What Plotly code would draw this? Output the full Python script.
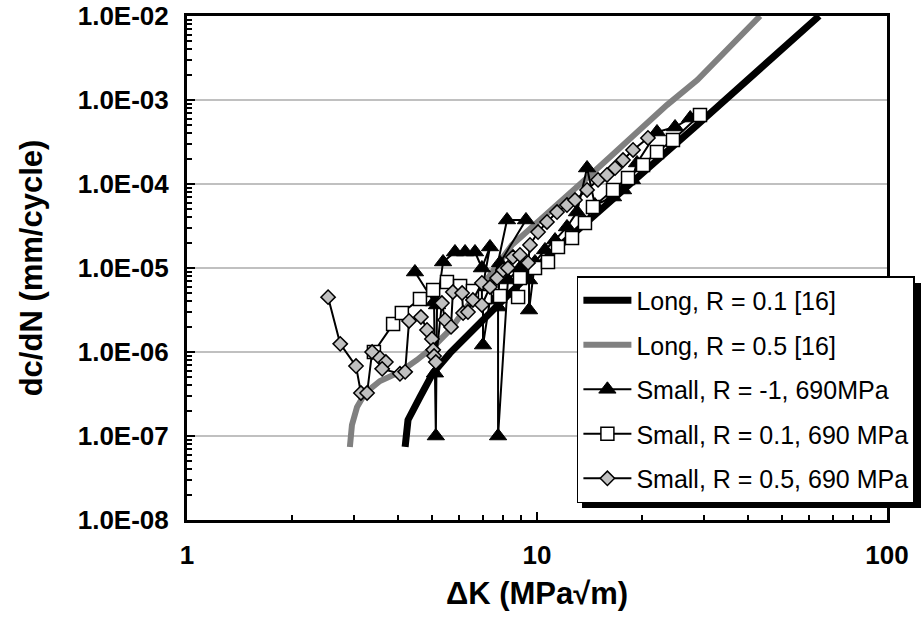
import plotly.graph_objects as go

# ---------------- data ----------------
# Long crack, R = 0.1 [16]
long_r01_dk = [4.20, 4.28, 4.63, 5.04, 5.64, 6.31, 7.01, 7.84, 8.77, 9.74, 10.68, 28.6, 64.0]
long_r01_dcdn = [7.4e-8, 1.55e-7, 2.91e-7, 5.6e-7, 9.7e-7, 1.51e-6, 2.4e-6, 3.83e-6, 5.94e-6,
                 9.5e-6, 1.35e-5, 5.0e-4, 1.0e-2]

# Long crack, R = 0.5 [16]
long_r05_dk = [2.92, 2.96, 3.06, 3.23, 3.56, 4.06, 4.54, 5.05, 5.64, 6.44, 7.34, 8.48, 14.2,
               23.5, 28.7, 43.4]
long_r05_dcdn = [7.4e-8, 1.35e-7, 2.21e-7, 3.25e-7, 4.52e-7, 5.78e-7, 8.04e-7, 1.15e-6, 1.83e-6,
                 3.94e-6, 8.49e-6, 1.88e-5, 1.28e-4, 8.7e-4, 1.73e-3, 1.0e-2]

# Small crack, R = -1, 690 MPa
small_rm1_dk = [4.48, 5.08, 5.11, 5.14, 5.18, 5.39, 5.83, 6.23, 6.65, 6.96, 7.34, 7.01, 7.01,
                7.34, 8.21, 9.30, 7.84, 7.74, 7.74, 8.26, 8.94, 9.49, 9.49, 9.87, 10.54, 11.26,
                12.18, 13.01, 13.90, 14.64, 16.49, 17.61, 18.68, 19.31, 22.02, 24.80, 27.4]
small_rm1_dcdn = [8.96e-6, 3.94e-6, 5.6e-7, 1.0e-7, 3.63e-6, 1.18e-5, 1.55e-5, 1.55e-5, 1.55e-5,
                  1.0e-5, 1.78e-5, 6.28e-6, 1.21e-6, 4.16e-6, 3.73e-5, 3.73e-5, 1.15e-5, 3.43e-6,
                  1.0e-7, 7.2e-6, 1.0e-5, 7.2e-6, 3.16e-6, 1.18e-5, 1.64e-5, 2.15e-5, 3.08e-5,
                  4.64e-5, 1.55e-4, 5.62e-5, 7.0e-5, 8.49e-5, 1.12e-4, 1.78e-4, 4.16e-4, 4.77e-4,
                  6.1e-4]

# Small crack, R = 0.1, 690 MPa
small_r01_dk = [3.42, 3.88, 4.11, 4.63, 5.05, 5.53, 6.03, 6.56, 7.10, 7.84, 8.83, 8.94, 9.87,
                10.75, 11.48, 12.59, 13.71, 14.45, 16.49, 18.20, 20.09, 22.02, 24.46, 29.22]
small_r01_dcdn = [1.0e-6, 2.15e-6, 2.91e-6, 4.27e-6, 5.47e-6, 6.81e-6, 6.1e-6, 5.32e-6, 4.52e-6,
                  4.64e-6, 4.52e-6, 7.6e-6, 1.0e-5, 1.18e-5, 1.78e-5, 2.28e-5, 3.43e-5, 5.32e-5,
                  8.49e-5, 1.18e-4, 1.68e-4, 2.40e-4, 3.34e-4, 6.63e-4]

# Small crack, R = 0.5, 690 MPa
small_r05_dk = [2.53, 2.74, 3.04, 3.14, 3.27, 3.38, 3.56, 3.70, 3.61, 4.06, 4.20, 4.31, 4.66,
                4.85, 5.01, 5.05, 5.08, 5.14, 5.35, 5.46, 5.68, 5.75, 6.11, 6.15, 6.35, 6.56,
                6.96, 6.96, 7.34, 7.69, 8.00, 8.26, 8.54, 8.94, 9.43, 9.55, 10.07, 10.68, 11.41,
                12.18, 12.84, 13.90, 14.94, 15.85, 16.71, 17.61, 18.81, 20.75]
small_r05_dcdn = [4.5e-6, 1.25e-6, 6.8e-7, 3.25e-7, 3.25e-7, 1.0e-6, 8.5e-7, 7.6e-7, 6.3e-7,
                  5.5e-7, 5.8e-7, 2.34e-6, 2.61e-6, 1.83e-6, 1.43e-6, 1.06e-6, 8.96e-7, 7.6e-7,
                  3.83e-6, 2.41e-6, 1.99e-6, 5.18e-6, 5.04e-6, 2.91e-6, 2.99e-6, 4.16e-6, 6.63e-6,
                  3.63e-6, 5.94e-6, 7.6e-6, 9.46e-6, 1.0e-5, 1.35e-5, 1.43e-5, 1.15e-5, 1.88e-5,
                  2.68e-5, 3.53e-5, 4.64e-5, 5.62e-5, 6.45e-5, 8.49e-5, 1.12e-4, 1.28e-4, 1.55e-4,
                  1.93e-4, 2.54e-4, 3.53e-4]

x_tick_vals = [1, 10, 100]
x_tick_text = ["1", "10", "100"]
y_tick_vals = [1e-8, 1e-7, 1e-6, 1e-5, 1e-4, 1e-3, 1e-2]
y_tick_text = ["1.0E-08", "1.0E-07", "1.0E-06", "1.0E-05", "1.0E-04", "1.0E-03", "1.0E-02"]

x_minor = [m * 10 ** e for e in range(0, 2) for m in range(2, 10)]
y_minor = [m * 10.0 ** e for e in range(-8, -2) for m in range(2, 10)]

FONT = "Liberation Sans, Arial, sans-serif"

fig = go.Figure()
fig.add_trace(go.Scatter(x=long_r01_dk, y=long_r01_dcdn, mode="lines", name="Long, R = 0.1 [16]",
                         legendgroup="g1",
                         line=dict(color="black", width=7)))
fig.add_trace(go.Scatter(x=long_r05_dk, y=long_r05_dcdn, mode="lines", name="Long, R = 0.5 [16]",
                         legendgroup="g2",
                         line=dict(color="#808080", width=6)))
fig.add_trace(go.Scatter(x=small_rm1_dk, y=small_rm1_dcdn, mode="lines+markers",
                         name="Small, R = -1, 690MPa", legendgroup="g3",
                         line=dict(color="black", width=2),
                         marker=dict(symbol="triangle-up", size=15, color="black",
                                     line=dict(color="black", width=1))))
fig.add_trace(go.Scatter(x=small_r01_dk, y=small_r01_dcdn, mode="lines+markers",
                         name="Small, R = 0.1, 690 MPa", legendgroup="g4",
                         line=dict(color="black", width=2),
                         marker=dict(symbol="square", size=13, color="white",
                                     line=dict(color="black", width=1.5))))
fig.add_trace(go.Scatter(x=small_r05_dk, y=small_r05_dcdn, mode="lines+markers",
                         name="Small, R = 0.5, 690 MPa", legendgroup="g5",
                         line=dict(color="black", width=2),
                         marker=dict(symbol="diamond", size=11, color="#c0c0c0",
                                     line=dict(color="black", width=1.5))))

# legend shadow
fig.add_shape(type="rect", xref="paper", yref="paper",
              x0=0.5643, x1=1.05, y0=0.0238, y1=0.47,
              fillcolor="black", line=dict(width=0), layer="above")

fig.update_layout(
    width=921, height=626,
    margin=dict(l=187, r=34, t=16, b=106, autoexpand=False),
    paper_bgcolor="white", plot_bgcolor="white",
    font=dict(family=FONT, color="black"),
    showlegend=True,
    legend=dict(x=0.557, y=0.484, xanchor="left", yanchor="top",
                bgcolor="white", bordercolor="black", borderwidth=1.5,
                font=dict(family=FONT, size=25, color="black"),
                itemwidth=48, traceorder="grouped", tracegroupgap=9),
)

fig.update_xaxes(
    type="log", range=[0, 2], automargin=False,
    tickmode="array", tickvals=x_tick_vals, ticktext=x_tick_text,
    ticks="inside", ticklen=8, tickwidth=1.5, tickcolor="black",
    ticklabelstandoff=10,
    tickfont=dict(family=FONT, size=26, color="black", weight="bold"),
    minor=dict(tickmode="array", tickvals=x_minor, ticks="inside", ticklen=5,
               tickwidth=1.5, tickcolor="black", showgrid=False),
    showgrid=False, zeroline=False,
    showline=True, linecolor="black", linewidth=3, mirror=True,
    title=dict(text="ΔK (MPa√m)", standoff=14,
               font=dict(family=FONT, size=31, color="black", weight="bold")),
)
fig.update_yaxes(
    type="log", range=[-8, -2], automargin=False,
    tickmode="array", tickvals=y_tick_vals, ticktext=y_tick_text,
    ticks="inside", ticklen=8, tickwidth=1.5, tickcolor="black",
    ticklabelstandoff=10,
    tickfont=dict(family=FONT, size=26, color="black", weight="bold"),
    minor=dict(tickmode="array", tickvals=y_minor, ticks="inside", ticklen=5,
               tickwidth=1.5, tickcolor="black", showgrid=False),
    showgrid=True, gridcolor="#c0c0c0", gridwidth=1.5, zeroline=False,
    showline=True, linecolor="black", linewidth=3, mirror=True,
    title=dict(text="dc/dN (mm/cycle)", standoff=26,
               font=dict(family=FONT, size=31, color="black", weight="bold")),
)

fig.write_html("out.html")
